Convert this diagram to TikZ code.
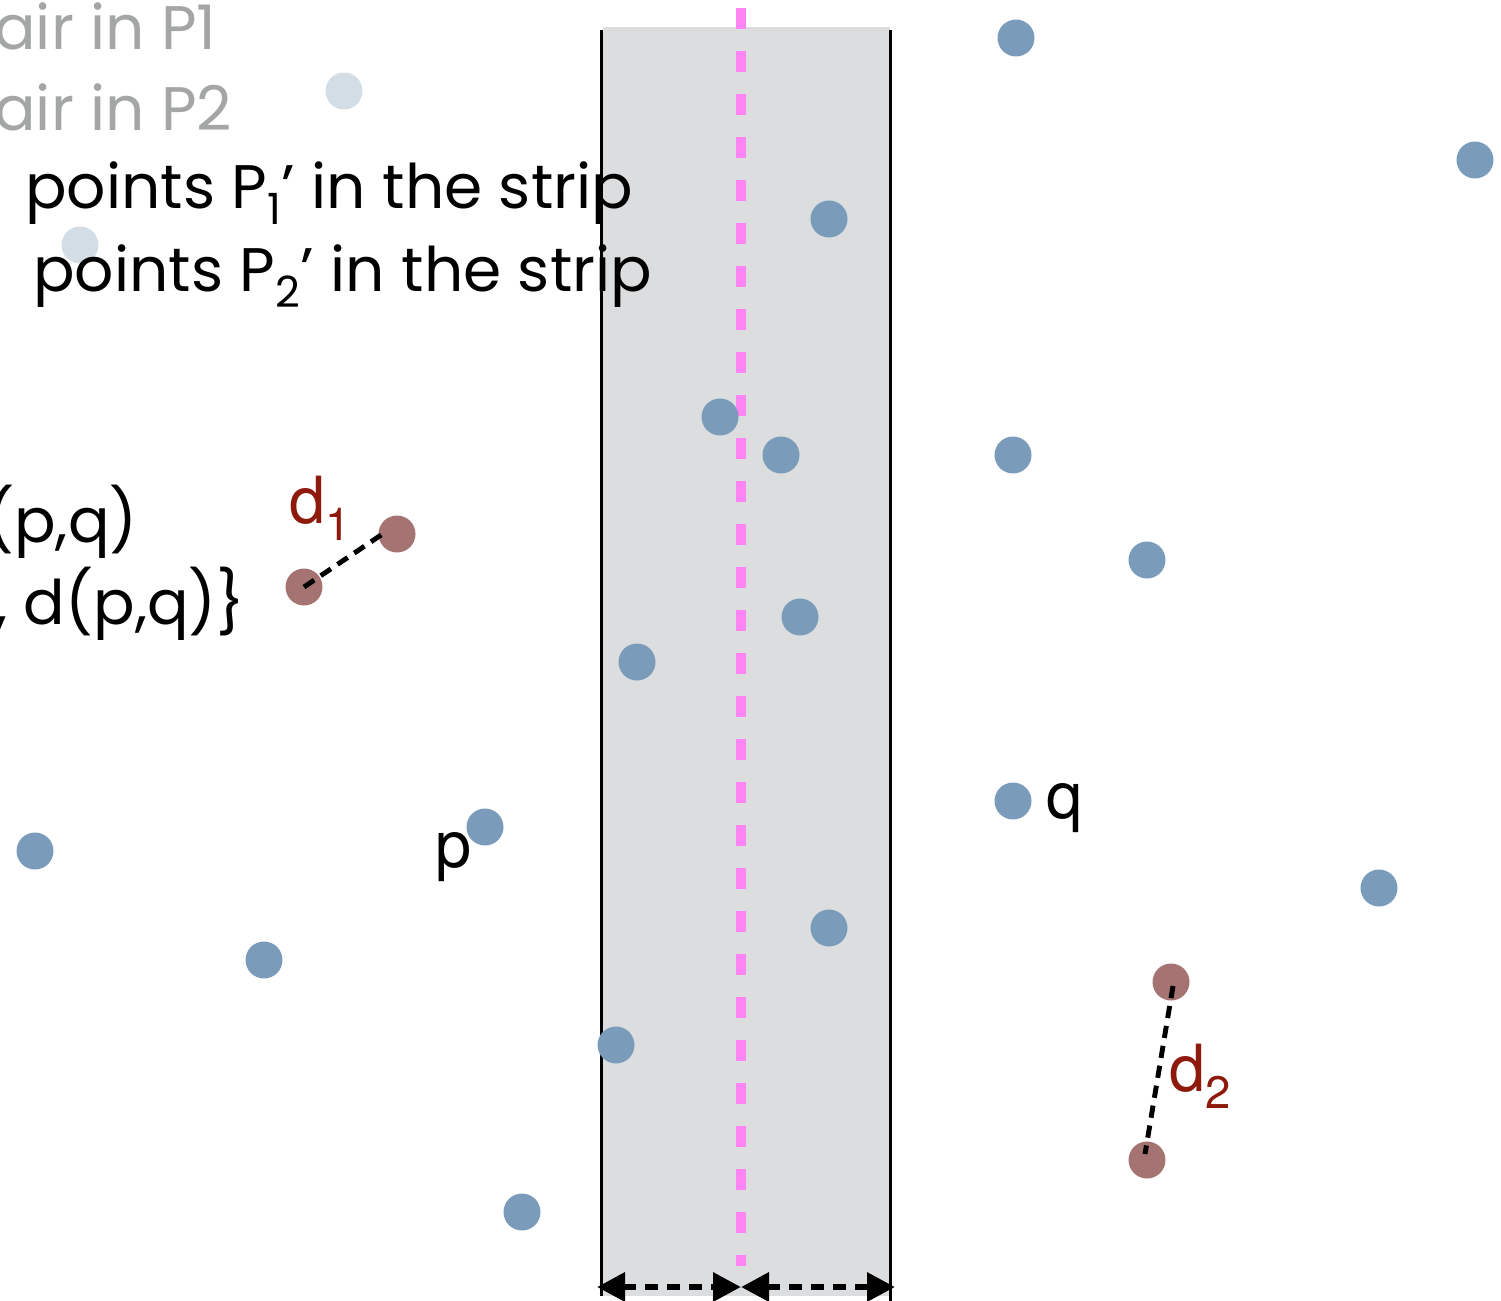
\documentclass[tikz,border=0pt]{standalone}
\usepackage{fontspec}
\setmainfont{TeX Gyre Heros}
\newfontfamily\chalkfont{Poppins}
\usepackage{xcolor}
\definecolor{ptBlue}{HTML}{7B9BBB}
\definecolor{ptFaded}{HTML}{D3DDE6}
\definecolor{ptRed}{HTML}{A57371}
\definecolor{lblRed}{HTML}{8E1A0E}
\definecolor{stripGray}{HTML}{DCDDDF}
\definecolor{midPink}{HTML}{FF85F4}
\definecolor{oldGray}{HTML}{A3A6A5}
\usepackage{tikz}
\usetikzlibrary{arrows.meta}

\begin{document}
\begin{tikzpicture}[x=0.02cm, y=-0.02cm,
  pt/.style={circle, fill=ptBlue, inner sep=0pt, minimum size=0.74cm},
  ptfaded/.style={pt, fill=ptFaded},
  ptred/.style={pt, fill=ptRed},
  chalk/.style={anchor=west, inner sep=0pt, font=\chalkfont\fontsize{35}{40}\selectfont},
  lbl/.style={inner sep=0pt, font=\fontsize{37}{40}\selectfont},
  pairline/.style={line width=2.8pt, dash pattern=on 7pt off 4.5pt},
  widtharrow/.style={line width=3.6pt, dash pattern=on 7pt off 5.5pt,
    {Triangle[length=0.56cm, width=0.56cm]}-{Triangle[length=0.56cm, width=0.56cm]}}]
  \useasboundingbox (0,0) rectangle (1501,1301);
  \clip (0,0) rectangle (1501,1301);
  % the strip
  \fill[stripGray] (603,27) rectangle (890,1296);
  \draw[midPink, line width=0.2cm, dash pattern=on 0.42cm off 0.44cm] (741,8) -- (741,1266);
  % faded points, under the text
  \node[ptfaded] (f1) at (344,91) {};
  \node[ptfaded] (f2) at (80,245) {};
  % text (cut at the left edge)
  \node[chalk, text=oldGray] (t1) at (-6,26) {air in P1};
  \node[chalk, text=oldGray] (t2) at (-6,107) {air in P2};
  \node[chalk] (t3) at (25,193) {points P\textsubscript{1}’ in the strip};
  \node[chalk] (t4) at (33,276) {points P\textsubscript{2}’ in the strip};
  \node[chalk] (t5) at (-14,522) {(p,q)};
  \node[chalk] (t6) at (-5,604) {, d(p,q)\}};
  % strip borders
  \draw[line width=1.7pt] (601,30) -- (601,1296);
  \draw[line width=1.7pt] (890,30) -- (890,1301);
  \coordinate (sl) at (597,1287);
  \coordinate (sm) at (741,1287);
  \coordinate (sr) at (895,1287);
  \draw[widtharrow] (sl) -- (sm);
  \draw[widtharrow] (sm) -- (sr);
  % points
  \node[pt] (b1) at (1016,38) {};
  \node[pt] (b2) at (1475,160) {};
  \node[pt] (b3) at (829,219) {};
  \node[pt] (b4) at (720,417) {};
  \node[pt] (b5) at (781,455) {};
  \node[pt] (b6) at (1013,455) {};
  \node[pt] (b7) at (1147,560) {};
  \node[pt] (b8) at (800,617) {};
  \node[pt] (b9) at (637,662) {};
  \node[pt] (q) at (1013,801) {};
  \node[pt] (p) at (485,827) {};
  \node[pt] (b10) at (35,851) {};
  \node[pt] (b11) at (1379,888) {};
  \node[pt] (b12) at (829,928) {};
  \node[pt] (b13) at (264,960) {};
  \node[pt] (b14) at (616,1045) {};
  \node[pt] (b15) at (522,1212) {};
  \node[ptred] (r1) at (397,534) {};
  \node[ptred] (r2) at (304,587) {};
  \node[ptred] (r3) at (1171,982) {};
  \node[ptred] (r4) at (1147,1160) {};
  % closest pairs
  \draw[pairline] (r2.center) -- ([shift={(-10,-3)}]r1.center);
  \draw[pairline] ([shift={(2,4)}]r3.center) -- ([shift={(-2,-6)}]r4.center);
  \node[lbl, text=lblRed] (d1) at (321,508) {d\textsubscript{1}};
  \node[lbl, text=lblRed] (d2) at (1201,1076) {d\textsubscript{2}};
  \node[lbl] (plbl) at (454,857) {p};
  \node[lbl] (qlbl) at (1065,808) {q};
\end{tikzpicture}
\end{document}
